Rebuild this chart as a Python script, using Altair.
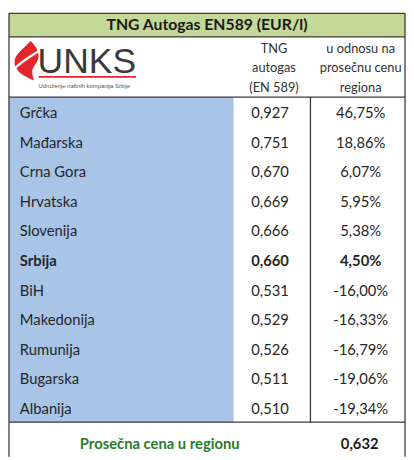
import altair as alt
import pandas as pd

# ---- data ----
title = "TNG Autogas EN589 (EUR/l)"
header_price = ["TNG", "autogas", "(EN 589)"]
header_pct = ["u odnosu na", "prosečnu cenu", "regiona"]
countries = ["Grčka", "Mađarska", "Crna Gora", "Hrvatska", "Slovenija", "Srbija",
             "BiH", "Makedonija", "Rumunija", "Bugarska", "Albanija"]
prices = [0.927, 0.751, 0.670, 0.669, 0.666, 0.660, 0.531, 0.529, 0.526, 0.511, 0.510]
pct = [46.75, 18.86, 6.07, 5.95, 5.38, 4.50, -16.00, -16.33, -16.79, -19.06, -19.34]
highlight = "Srbija"
avg_label = "Prosečna cena u regionu"
avg_price = 0.632
logo_name = "UNKS"
logo_sub = "Udruženje naftnih kompanija Srbije"

FONT = "Lato"
W, H = 404, 452
GREEN_BG = "#c4d898"
BLUE_BG = "#a8c4e6"
LINE = "#3a3a3a"

df = pd.DataFrame({
    "i": list(range(len(countries))),
    "country": countries,
    "price": [f"{p:.3f}".replace(".", ",") for p in prices],
    "pct": [f"{v:.2f}".replace(".", ",") + "%" for v in pct],
})

yscale = alt.Scale(domain=[-3.45, -3.45 + H / 30.0], range=[0, H])
Y = alt.Y("i:Q", scale=yscale, axis=None)

one = alt.Data(values=[{"k": 1}])


def rect(x, x2, y, y2, color):
    return alt.Chart(one).mark_rect(color=color).encode(
        x=alt.value(x), x2=alt.value(x2), y=alt.value(y), y2=alt.value(y2))


def rule(x, x2, y, y2, w=1.0, color=LINE):
    return alt.Chart(one).mark_rule(color=color, strokeWidth=w).encode(
        x=alt.value(x), x2=alt.value(x2), y=alt.value(y), y2=alt.value(y2))


def label(txt, x, y, size=13, weight="normal", color="#262626", align="center", font=FONT):
    return alt.Chart(one).mark_text(text=txt, fontSize=size, fontWeight=weight, color=color,
                                    align=align, baseline="middle", font=font).encode(
        x=alt.value(x), y=alt.value(y))


layers = [
    rect(1, 403, 2, 26, GREEN_BG),
    rect(1, 229, 87, 417, BLUE_BG),
    # frame
    rule(1, 403, 2, 2, 1.3),
    rule(1, 403, 26, 26, 1.3),
    rule(1, 403, 87, 87, 1.3),
    rule(1, 403, 417, 417, 1.3),
    rule(1, 1, 2, 452, 1.3),
    rule(403, 403, 2, 452, 1.3),
    rule(307, 307, 87, 417, 1.3),
    label(title, 202, 14, size=16, weight="bold", color="#1a1a1a"),
]

for k, (a, b) in enumerate(zip(header_price, header_pct)):
    yy = 38 + 20 * k
    layers.append(label(a, 270, yy, size=13, color="#333333"))
    layers.append(label(b, 358, yy, size=13, color="#333333"))

# logo: solid flame split by a white diagonal gap
flame = ("M0.2,-1 C0.45,-0.75 0.62,-0.5 0.6,-0.2 C0.58,0.1 0.28,0.3 0.28,0.55 "
         "C0.28,0.75 0.33,0.9 0.38,1 C-0.05,0.85 -0.62,0.55 -0.62,0.08 "
         "C-0.62,-0.35 -0.15,-0.6 0.2,-1 Z")
gap = "M-0.6,0.4 C-0.3,0.05 0.2,-0.2 0.62,-0.5"
layers.append(alt.Chart(one).mark_point(shape=flame, filled=True, color="#e0262c",
                                        opacity=1, size=1600, strokeWidth=0).encode(
    x=alt.value(19), y=alt.value(50)))
layers.append(alt.Chart(one).mark_point(shape=gap, filled=False, color="white",
                                        opacity=1, size=1600, strokeWidth=2.2).encode(
    x=alt.value(19), y=alt.value(50)))
layers.append(alt.Chart(one).mark_text(text=logo_name, fontSize=36, color="#3a3a3a",
                                       align="left", baseline="alphabetic",
                                       font="Liberation Sans").encode(
    x=alt.value(30), y=alt.value(63)))
layers.append(rule(31, 130, 66.5, 66.5, 1.6, "#e0262c"))
layers.append(alt.Chart(one).mark_text(text=logo_sub, fontSize=6, color="#555555",
                                       align="left", baseline="middle",
                                       font="Liberation Sans").encode(
    x=alt.value(31), y=alt.value(76)))

base = alt.Chart(df)
normal = base.transform_filter(alt.datum.country != highlight)
bold = base.transform_filter(alt.datum.country == highlight)
for src, wt in ((normal, "normal"), (bold, "bold")):
    layers.append(src.mark_text(align="left", baseline="middle", fontSize=15, font=FONT,
                                fontWeight=wt, color="#262626").encode(
        x=alt.value(12), y=Y, text="country:N"))
    layers.append(src.mark_text(align="center", baseline="middle", fontSize=15, font=FONT,
                                fontWeight=wt, color="#262626").encode(
        x=alt.value(266), y=Y, text="price:N"))
    layers.append(src.mark_text(align="center", baseline="middle", fontSize=15, font=FONT,
                                fontWeight=wt, color="#262626").encode(
        x=alt.value(358), y=Y, text="pct:N"))

layers.append(label(avg_label, 154, 439, size=15, weight="bold", color="#2a7d2a"))
layers.append(label(f"{avg_price:.3f}".replace(".", ","), 357, 439, size=15,
                    weight="bold", color="#1a1a1a"))

chart = alt.layer(*layers).properties(
    width=W, height=H, padding=0, autosize="none",
    background="white",
).configure_view(stroke=None)

chart.save("out.html", embed_options={"renderer": "svg", "actions": False})
